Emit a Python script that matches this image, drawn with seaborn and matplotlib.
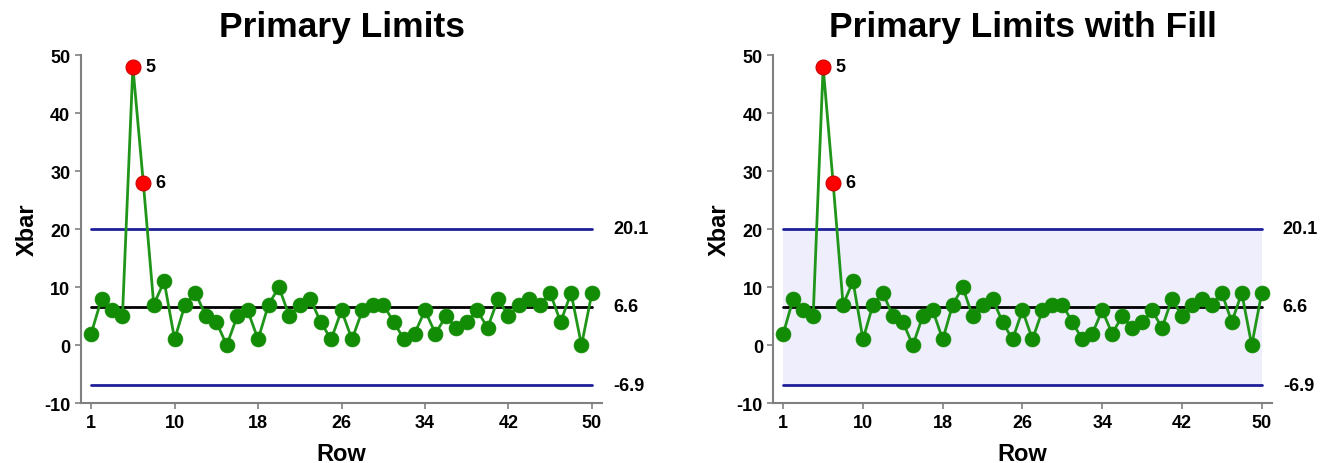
import matplotlib
matplotlib.use("Agg")
import matplotlib.pyplot as plt
import seaborn as sns
import pandas as pd

# ---- data ----
rows = list(range(1, 50))
xbar = [2, 8, 6, 5, 48, 28, 7, 11, 1, 7,
        9, 5, 4, 0, 5, 6, 1, 7, 10, 5,
        7, 8, 4, 1, 6, 1, 6, 7, 7, 4,
        1, 2, 6, 2, 5, 3, 4, 6, 3, 8,
        5, 7, 8, 7, 9, 4, 9, 0, 9]
ucl = 20.1
cl = 6.6
lcl = -6.9
limit_labels = ["20.1", "6.6", "-6.9"]
xtick_rows = [1, 9, 17, 25, 33, 41, 49]
xtick_labels = ["1", "10", "18", "26", "34", "42", "50"]
yticks = [-10, 0, 10, 20, 30, 40, 50]
titles = ["Primary Limits", "Primary Limits with Fill"]

sns.set_theme(style="ticks")
plt.rcParams['font.family'] = ['Liberation Sans', 'DejaVu Sans']
plt.rcParams['font.weight'] = 'bold'
plt.rcParams['axes.labelweight'] = 'bold'
plt.rcParams['axes.titleweight'] = 'bold'
plt.rcParams['axes.unicode_minus'] = False
plt.rcParams['text.color'] = 'black'
plt.rcParams['axes.labelcolor'] = 'black'
plt.rcParams['xtick.labelcolor'] = 'black'
plt.rcParams['ytick.labelcolor'] = 'black'

fig = plt.figure(figsize=(13.23, 4.64), dpi=100)
ax1 = fig.add_axes([0.0610, 0.1287, 0.3943, 0.7506])
ax2 = fig.add_axes([0.5845, 0.1287, 0.3767, 0.7506])

df = pd.DataFrame({"Row": rows, "Xbar": xbar})
df["out"] = (df["Xbar"] > ucl) | (df["Xbar"] < lcl)

green = "#128C04"
line_green = "#1F951A"
navy = "#1F1F99"

for ax, title, fill in zip([ax1, ax2], titles, [False, True]):
    if fill:
        ax.fill_between([rows[0], rows[-1]], lcl, ucl, color="#EEEEFC",
                        zorder=0, linewidth=0)
    for val, col in [(ucl, navy), (cl, "black"), (lcl, navy)]:
        ax.plot([rows[0], rows[-1]], [val, val], color=col, lw=2, zorder=1)
    sns.lineplot(data=df, x="Row", y="Xbar", ax=ax, color=line_green, lw=2,
                 zorder=2, solid_joinstyle="miter")
    sns.scatterplot(data=df[~df["out"]], x="Row", y="Xbar", ax=ax, color=green,
                    s=115, edgecolor=green, linewidth=0.5, zorder=3)
    sns.scatterplot(data=df[df["out"]], x="Row", y="Xbar", ax=ax, color="#FF0000",
                    s=115, edgecolor="#CC0000", linewidth=0.8, zorder=4)
    for r, v in zip(df.loc[df["out"], "Row"], df.loc[df["out"], "Xbar"]):
        ax.annotate(str(r), (r, v), xytext=(9, 0), textcoords="offset points",
                    va="center", ha="left", fontsize=13, fontweight="bold")
    for val, lab in zip([ucl, cl, lcl], limit_labels):
        ax.annotate(lab, xy=(1, val), xycoords=("axes fraction", "data"),
                    xytext=(8, 0), textcoords="offset points", va="center",
                    ha="left", fontsize=13, fontweight="bold")
    ax.set_xlim(0, 50)
    ax.set_ylim(-10, 50)
    ax.set_xticks(xtick_rows)
    ax.set_xticklabels(xtick_labels)
    ax.set_yticks(yticks)
    ax.tick_params(axis="both", labelsize=13, length=4, width=1.2,
                   color="#808080", pad=3.5)
    for lbl in ax.get_xticklabels() + ax.get_yticklabels():
        lbl.set_fontweight("bold")
    for side in ["top", "right"]:
        ax.spines[side].set_visible(False)
    for side in ["left", "bottom"]:
        ax.spines[side].set_color("#808080")
        ax.spines[side].set_linewidth(1.5)
    ax.set_title(title, fontsize=25.5, fontweight="bold", pad=14)
    ax.set_xlabel("Row", fontsize=17, fontweight="bold", labelpad=8)
    ax.set_ylabel("Xbar", fontsize=17, fontweight="bold", labelpad=4)
    if ax.get_legend() is not None:
        ax.get_legend().remove()

fig.savefig("out.png", dpi=100)
